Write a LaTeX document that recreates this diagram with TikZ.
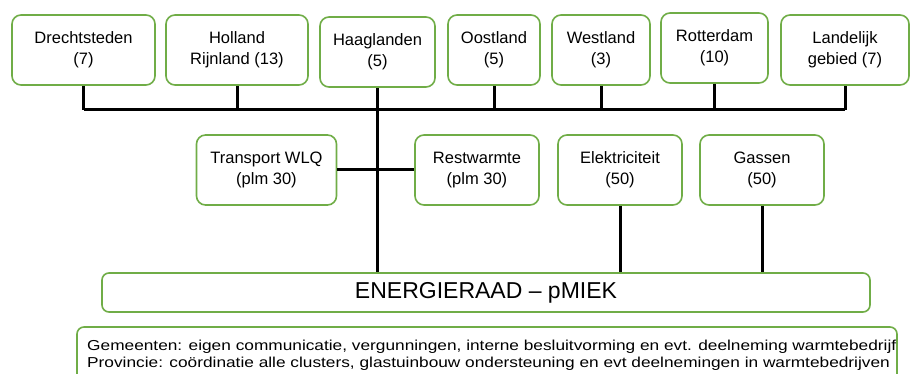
\documentclass[tikz,border=0pt]{standalone}
\usepackage{fontspec}
\setmainfont{Liberation Sans}
\newfontfamily\notefont[FakeStretch=1.2]{Liberation Sans}
\usepackage{tikz}
\usetikzlibrary{positioning,calc}
\usepackage{xcolor}
\definecolor{boxgreen}{RGB}{112,173,71}

\begin{document}
\begin{tikzpicture}[x=1pt, y=-1pt,
    unit/.style={draw=boxgreen, line width=1.6pt, rounded corners=9pt, fill=white,
        align=center, inner sep=0pt, minimum height=70pt,
        font=\fontsize{16.5}{21}\selectfont},
    raad/.style={draw=boxgreen, line width=1.6pt, rounded corners=7pt, fill=white,
        inner sep=0pt, minimum width=768pt, minimum height=39pt,
        font=\fontsize{23}{27}\selectfont},
    link/.style={line width=3pt, black}]
    \clip (0,0) rectangle (911,374);

    % Regio's
    \node[unit, minimum width=143pt] (drecht) at (83.5, 50) {Drechtsteden\\(7)};
    \node[unit, minimum width=142pt] (holland) at (237, 50) {Holland\\Rijnland (13)};
    \node[unit, minimum width=115pt] (haag) at (377.5, 52) {Haaglanden\\(5)};
    \node[unit, minimum width=92pt] (oost) at (494, 50) {Oostland\\(5)};
    \node[unit, minimum width=98pt] (west) at (601, 50) {Westland\\(3)};
    \node[unit, minimum width=107pt] (rotter) at (714.5, 48) {Rotterdam\\(10)};
    \node[unit, minimum width=128pt] (landelijk) at (845, 50) {Landelijk\\gebied (7)};

    % Clusters
    \node[unit, minimum width=140pt] (transport) at (266.5, 170) {Transport WLQ\\(plm 30)};
    \node[unit, minimum width=124pt] (rest) at (477, 170) {Restwarmte\\(plm 30)};
    \node[unit, minimum width=124pt] (elek) at (620, 170) {Elektriciteit\\(50)};
    \node[unit, minimum width=124pt] (gassen) at (762, 170) {Gassen\\(50)};

    \node[raad] (energieraad) at (486, 292.5) {ENERGIERAAD -- pMIEK};

    % Toelichting
    \draw[draw=boxgreen, line width=1.6pt, rounded corners=7pt] (77,327) rectangle (897,392);
    \node[anchor=north west, align=left, inner sep=0pt,
        font=\notefont\fontsize{14.4}{16.5}\selectfont] (note) at (87, 340)
        {Gemeenten: eigen communicatie, vergunningen, interne besluitvorming en evt. deelneming warmtebedrijf\\
         Provincie: co\"ordinatie alle clusters, glastuinbouw ondersteuning en evt deelnemingen in warmtebedrijven};

    % Verbindingen
    \coordinate (bus) at (0, 110);
    \draw[link] (drecht.south |- bus) -- (landelijk.south |- bus);
    \foreach \r in {drecht, holland, oost, west, rotter, landelijk}
        \draw[link] (\r.south) -- (\r.south |- bus);
    \draw[link] (haag.south) -- (haag.south |- energieraad.north);
    \draw[link] (transport.east) -- (rest.west);
    \draw[link] (elek.south) -- (elek.south |- energieraad.north);
    \draw[link] (gassen.south) -- (gassen.south |- energieraad.north);
\end{tikzpicture}
\end{document}
